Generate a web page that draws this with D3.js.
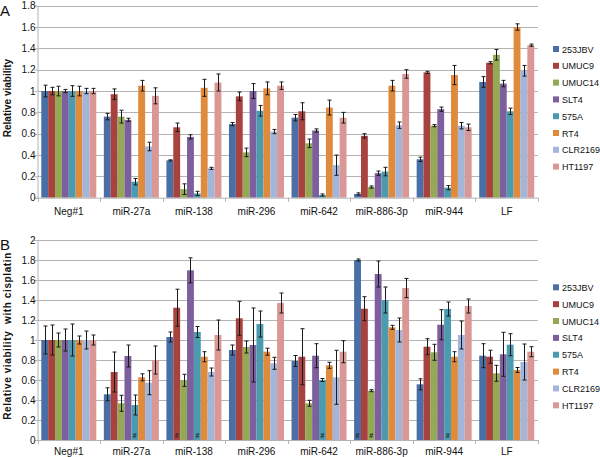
<!DOCTYPE html>
<html><head><meta charset="utf-8">
<script src="https://cdn.jsdelivr.net/npm/d3@7"></script>
<style>body{margin:0;background:#fff}svg{display:block;font-family:"Liberation Sans",Arial,Helvetica,sans-serif}</style>
</head><body><svg id="c" width="600" height="457"></svg>
<script>
const categories = ["Neg#1","miR-27a","miR-138","miR-296","miR-642","miR-886-3p","miR-944","LF"];
const seriesNames = ["253JBV","UMUC9","UMUC14","SLT4","575A","RT4","CLR2169","HT1197"];
const colors = ["#4a6fa6","#a8423f","#93a954","#7c5f9c","#4a9baf","#e08a3c","#a2b5da","#d99795"];

// Panel A: relative viability (rows = series, columns = categories)
const valuesA = [
  [1.00,0.76,0.35,0.69,0.75,0.035,0.36,1.085],
  [1.00,0.97,0.66,0.95,0.81,0.58,1.175,1.265],
  [1.00,0.76,0.08,0.425,0.51,0.10,0.675,1.34],
  [1.00,0.73,0.57,1.00,0.63,0.23,0.83,1.07],
  [1.00,0.15,0.04,0.815,0.025,0.245,0.094,0.81],
  [1.00,1.05,1.03,1.025,0.845,1.05,1.15,1.60],
  [1.00,0.48,0.275,0.62,0.305,0.68,0.675,1.19],
  [1.00,0.955,1.08,1.05,0.75,1.16,0.66,1.43]
];
const errorsA = [
  [0.055,0.03,0.005,0.015,0.03,0.01,0.02,0.05],
  [0.035,0.05,0.04,0.04,0.08,0.02,0.01,0.01],
  [0.045,0.06,0.05,0.04,0.04,0.01,0.01,0.05],
  [0.015,0.015,0.02,0.07,0.015,0.02,0.02,0.03],
  [0.05,0.03,0.02,0.05,0.01,0.04,0.02,0.03],
  [0.045,0.05,0.08,0.06,0.07,0.05,0.09,0.03],
  [0.025,0.04,0.01,0.02,0.095,0.03,0.03,0.05],
  [0.025,0.075,0.08,0.035,0.05,0.04,0.03,0.01]
];

// Panel B: relative viability with cisplatin
const valuesB = [
  [1.00,0.457,1.03,0.90,0.79,1.80,0.557,0.843],
  [1.00,0.68,1.323,1.217,0.833,1.313,0.933,0.833],
  [1.00,0.367,0.597,0.93,0.367,0.493,0.877,0.667],
  [1.00,0.84,1.697,0.95,0.843,1.66,1.153,0.857],
  [1.00,0.35,1.08,1.16,0.60,1.40,1.31,0.953],
  [1.00,0.627,0.833,0.883,0.747,1.127,0.833,0.70],
  [1.00,0.573,0.68,0.767,0.627,1.10,1.05,0.78],
  [1.00,0.80,1.05,1.37,0.883,1.52,1.34,0.883]
];
const errorsB = [
  [0.14,0.065,0.05,0.05,0.055,0.01,0.055,0.12],
  [0.15,0.20,0.185,0.17,0.28,0.12,0.08,0.065],
  [0.07,0.08,0.06,0.06,0.03,0.01,0.08,0.08],
  [0.11,0.11,0.125,0.37,0.12,0.13,0.15,0.22],
  [0.16,0.10,0.055,0.13,0.015,0.13,0.07,0.11],
  [0.04,0.035,0.05,0.035,0.03,0.02,0.05,0.025],
  [0.09,0.12,0.04,0.06,0.27,0.12,0.14,0.18],
  [0.05,0.14,0.15,0.10,0.11,0.095,0.07,0.05]
];
// '#' markers in panel B: [series index, category index]
const hashMarks = [[4,1],[1,2],[4,2],[4,4],[0,5],[2,5],[4,6]];

const yTicksA = [0,0.2,0.4,0.6,0.8,1,1.2,1.4,1.6,1.8];
const yTicksB = [0,0.2,0.4,0.6,0.8,1,1.2,1.4,1.6,1.8,2];

const svg = d3.select("#c");

function panel(opt){
  const g = svg.append("g");
  const x0 = d3.scaleBand().domain(categories).range([37.5, 538]).padding(0);
  const x1 = d3.scaleBand().domain(seriesNames).range([0, x0.bandwidth()]).paddingOuter(0.55).paddingInner(0);
  const y = d3.scaleLinear().domain([0, opt.ymax]).range([opt.y0, opt.y1]);

  // gridlines
  g.append("g").selectAll("line").data(opt.ticks.slice(1)).join("line")
    .attr("x1", 37.5).attr("x2", 538).attr("y1", d=>Math.round(y(d))+0.5).attr("y2", d=>Math.round(y(d))+0.5)
    .attr("stroke","#b4b4b4").attr("stroke-width",1);

  // y axis
  const ya = d3.axisLeft(y).tickValues(opt.ticks).tickSize(3).tickFormat(d=>d3.format("")(+d.toFixed(1)));
  const yg = g.append("g").attr("transform","translate(37.5,0)").call(ya);
  yg.select(".domain").attr("stroke","#b4b4b4");
  yg.selectAll(".tick line").attr("stroke","#b4b4b4");
  yg.selectAll(".tick text").attr("font-size",10).attr("fill","#111").attr("x",-2).attr("font-family","Liberation Sans, Arial, sans-serif");

  // bars
  seriesNames.forEach((s,si)=>{
    g.append("g").selectAll("rect").data(categories).join("rect")
      .attr("x", c=>x0(c)+x1(s)).attr("width", x1.bandwidth())
      .attr("y", (c,ci)=>y(opt.values[si][ci])).attr("height",(c,ci)=>opt.y0 - y(opt.values[si][ci]))
      .attr("fill", colors[si]);
  });
  // error bars
  seriesNames.forEach((s,si)=>{
    const eg = g.append("g").attr("stroke","#1a1a1a").attr("stroke-width",1);
    categories.forEach((c,ci)=>{
      const cx = Math.round(x0(c)+x1(s)+x1.bandwidth()/2)+0.5;
      const v = opt.values[si][ci], e = opt.errors[si][ci];
      const yt = y(v+e), yb = y(Math.max(0,v-e));
      eg.append("line").attr("x1",cx).attr("x2",cx).attr("y1",yt).attr("y2",yb);
      eg.append("line").attr("x1",cx-2).attr("x2",cx+2).attr("y1",yt).attr("y2",yt);
      eg.append("line").attr("x1",cx-2).attr("x2",cx+2).attr("y1",yb).attr("y2",yb);
    });
  });

  // x axis
  g.append("line").attr("x1",37.5).attr("x2",538).attr("y1",opt.y0+0.5).attr("y2",opt.y0+0.5).attr("stroke","#b4b4b4");
  const bounds = categories.map(c=>x0(c)).concat([x0(categories[categories.length-1])+x0.bandwidth()]);
  g.append("g").selectAll("line").data(bounds).join("line")
    .attr("x1",d=>Math.round(d)+0.5).attr("x2",d=>Math.round(d)+0.5).attr("y1",opt.y0).attr("y2",opt.y0+4).attr("stroke","#b4b4b4");
  g.append("g").selectAll("text").data(categories).join("text")
    .attr("x", c=>x0(c)+x0.bandwidth()/2).attr("y", opt.labelY).attr("text-anchor","middle")
    .attr("font-size",10).attr("fill","#111").text(c=>c);

  // axis title
  g.append("text").attr("transform",`translate(${opt.titleX},${opt.titleY}) rotate(-90)`)
    .attr("text-anchor","middle").attr("font-size",10).attr("font-weight","bold").attr("fill","#111")
    .style("letter-spacing", opt.titleSpacing + "px")
    .style("white-space","pre").text(opt.title);

  // panel letter
  g.append("text").attr("x",0).attr("y",opt.letterY).attr("font-size",15).attr("fill","#111").text(opt.letter);

  // legend
  const lg = g.append("g");
  seriesNames.forEach((s,si)=>{
    const cy = opt.legY + si*opt.legStep;
    lg.append("rect").attr("x",553).attr("y",cy-3).attr("width",6).attr("height",6).attr("fill",colors[si]);
    lg.append("text").attr("x",562).attr("y",cy+3.5).attr("font-size",9).attr("fill","#111").text(s);
  });

  if(opt.hashes){
    g.append("g").selectAll("text").data(opt.hashes).join("text")
      .attr("x", d=>x0(categories[d[1]])+x1(seriesNames[d[0]])+x1.bandwidth()/2)
      .attr("y", opt.y0-2).attr("text-anchor","middle").attr("font-size",7).attr("font-weight","bold")
      .attr("fill","#222").text("#");
  }
}

panel({values:valuesA, errors:errorsA, ymax:1.8, y0:197.7, y1:5.7, ticks:yTicksA,
  labelY:215, titleX:11, titleY:98, titleSpacing:0, title:"Relative viability", letter:"A", letterY:16, legY:49, legStep:16.8});
panel({values:valuesB, errors:errorsB, ymax:2, y0:440, y1:240, ticks:yTicksB, hashes:hashMarks,
  labelY:455, titleX:11, titleY:336, titleSpacing:0.6, title:"Relative viability  with cisplatin", letter:"B", letterY:250, legY:287.3, legStep:16.86});
</script></body></html>
